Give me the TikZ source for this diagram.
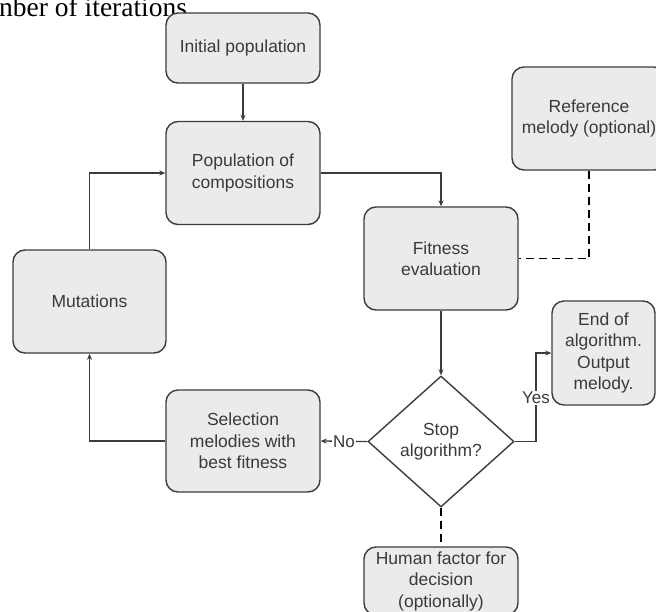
\documentclass[tikz,border=0pt]{standalone}
\usepackage{fontspec}
\setmainfont{Liberation Sans}
\newfontfamily\serifpart{Liberation Serif}
\usetikzlibrary{shapes.geometric,arrows.meta}
\definecolor{boxfill}{HTML}{EBEBEB}
\definecolor{boxline}{HTML}{3C3C3C}
\definecolor{txt}{HTML}{3A3A3A}
\tikzset{
  stepbox/.style={draw=boxline, line width=1.4pt, fill=boxfill, rounded corners=12pt,
    align=center, text=txt, inner sep=0pt, font=\fontsize{17.5}{21.5}\selectfont},
  decbox/.style={diamond, draw=boxline, line width=1.4pt, fill=white, align=center,
    text=txt, inner sep=0pt, font=\fontsize{17.5}{21.5}\selectfont},
  conn/.style={draw=boxline, line width=1.3pt, -{Stealth[length=6pt,width=5pt]}},
  optlink/.style={draw=black, line width=1.3pt, dash pattern=on 8pt off 5pt},
  lbl/.style={fill=white, text=txt, inner sep=1pt, font=\fontsize{17}{20}\selectfont}
}
\begin{document}
\begin{tikzpicture}[x=1pt,y=-1pt]
\useasboundingbox (0,0) rectangle (656,611);
\clip (0,0) rectangle (656,611);
\node[anchor=base west, inner sep=0pt, font=\serifpart\fontsize{27.5}{31}\selectfont] (head) at (-1,16.5) {nber of iterations.};

\node[stepbox, minimum width=154pt, minimum height=70pt] (init) at (243,48) {Initial population};
\node[stepbox, minimum width=154pt, minimum height=103pt] (pop) at (243,173) {Population of\\compositions};
\node[stepbox, minimum width=153pt, minimum height=103pt] (mut) at (89.5,301.5) {Mutations};
\node[stepbox, minimum width=154pt, minimum height=102pt] (sel) at (243,441) {Selection\\melodies with\\best fitness};
\node[stepbox, minimum width=154pt, minimum height=103pt] (fit) at (441,258.5) {Fitness\\evaluation};
\node[stepbox, minimum width=154pt, minimum height=103pt] (ref) at (589,118.5) {Reference\\melody (optional)};
\node[stepbox, minimum width=103pt, minimum height=104pt] (end) at (603.5,353) {End of\\algorithm.\\Output\\melody.};
\node[decbox, minimum width=146pt, minimum height=131pt] (dia) at (441,441.5) {Stop\\algorithm?};
\node[stepbox, minimum width=154pt, minimum height=68pt] (hum) at (441,581) {Human factor for\\decision\\(optionally)};

\draw[conn] (init) -- (pop);
\draw[conn] (mut.north) |- (pop.west);
\draw[conn] (pop.east) -| (fit.north);
\draw[conn] (sel.west) -| (mut.south);
\draw[conn] (fit.south) -- (dia.north);
\draw[conn] (dia.west) -- node[lbl] (no) {No} (sel.east);
\coordinate (yc) at (536,441.5);
\draw[conn] (dia.east) -- (yc) |- (end.west);
\node[lbl] (yes) at (536,398) {Yes};
\draw[optlink] (ref.south) |- (fit.east);
\draw[optlink] (dia.south) -- (hum.north);
\end{tikzpicture}
\end{document}
